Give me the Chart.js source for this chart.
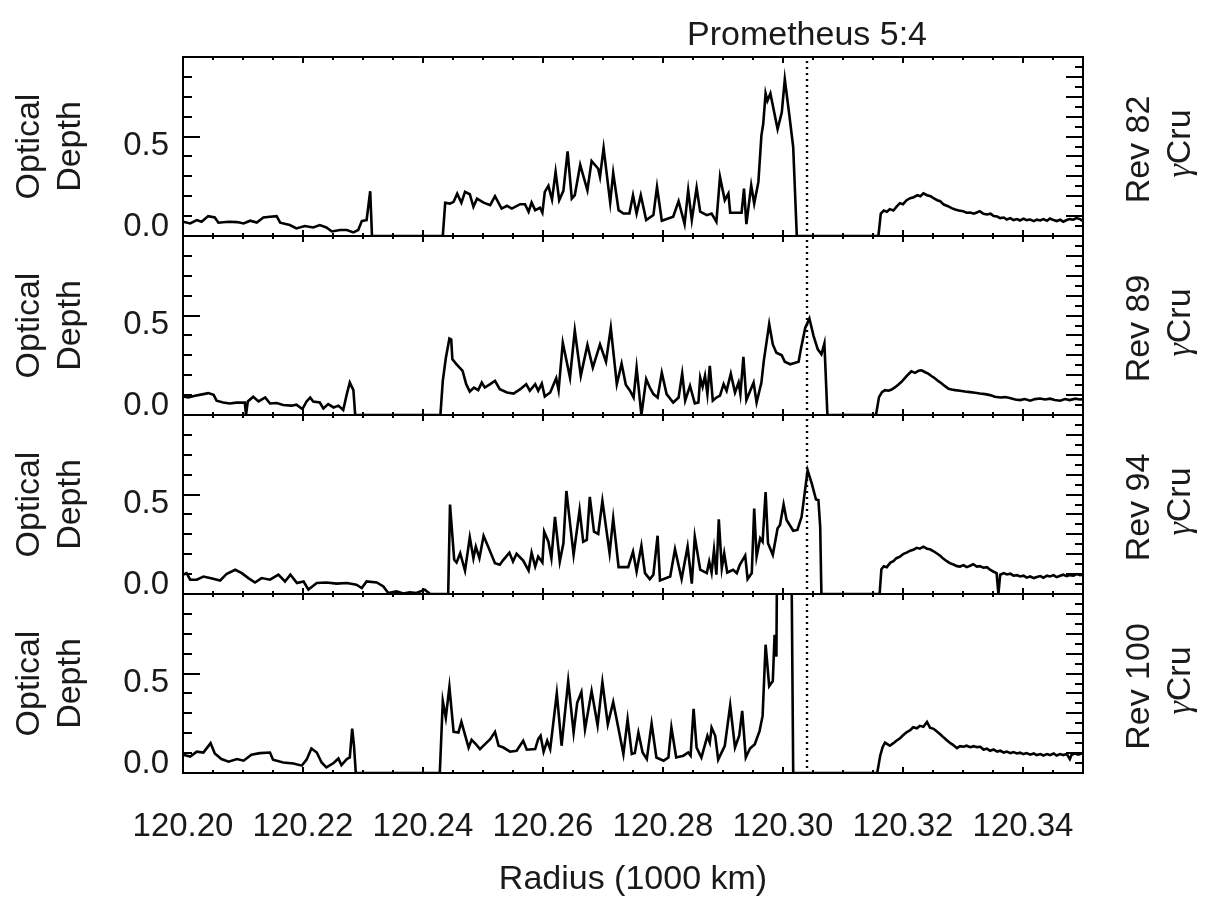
<!DOCTYPE html>
<html><head><meta charset="utf-8">
<script src="https://cdn.jsdelivr.net/npm/chart.js@4.4.1/dist/chart.umd.min.js"></script>
<style>
html,body{margin:0;padding:0;background:#fff;}
#wrap{position:relative;width:1217px;height:912px;background:#fff;}
canvas{position:absolute;left:0;top:0;}
</style>
</head><body>
<div id="wrap">
<canvas id="c0" width="1217" height="912"></canvas>
<canvas id="c1" width="1217" height="912"></canvas>
<canvas id="c2" width="1217" height="912"></canvas>
<canvas id="c3" width="1217" height="912"></canvas>
</div>
<script>
// ---------------- text ----------------
const revLabels = ['Rev 82', 'Rev 89', 'Rev 94', 'Rev 100'];
const starGreek = 'γ';
const starName = 'Cru';
const yTitleLines = ['Optical', 'Depth'];
const xTitle = 'Radius (1000 km)';
const resonanceLabel = 'Prometheus 5:4';
const resonanceRadius = 120.304;

// ---------------- axes ----------------
const xMin = 120.20, xMax = 120.35;
const xMajorTicks = [120.20, 120.22, 120.24, 120.26, 120.28, 120.30, 120.32, 120.34];
const yMin = 0.0, yMax = 0.9;
const yMajorTicks = [0.0, 0.5];
const yTickLabels = ['0.0', '0.5'];

// ---------------- data (radius in 1000 km, optical depth) ----------------
const rev82Radius = [120.2000,120.2012,120.2023,120.2031,120.2042,120.2053,120.2059,120.2076,120.2090,120.2101,120.2112,120.2123,120.2134,120.2145,120.2156,120.2162,120.2178,120.2189,120.2203,120.2217,120.2228,120.2239,120.2248,120.2262,120.2273,120.2284,120.2292,120.2298,120.2306,120.2312,120.2315,
120.2433,120.2437,120.2445,120.2451,120.2457,120.2464,120.2470,120.2478,120.2484,120.2490,120.2501,120.2512,120.2520,120.2531,120.2540,120.2548,120.2562,120.2570,120.2576,120.2581,120.2587,120.2595,120.2599,120.2603,120.2609,120.2615,120.2621,120.2627,120.2634,120.2641,120.2648,120.2653,120.2662,120.2674,120.2681,120.2692,120.2695,120.2701,120.2712,120.2717,120.2726,120.2734,120.2744,
120.2750,120.2756,120.2763,120.2772,120.2784,120.2790,120.2798,120.2817,120.2826,120.2836,120.2842,120.2848,120.2856,120.2862,120.2873,120.2881,120.2889,120.2895,120.2903,120.2909,120.2912,120.2931,120.2935,120.2939,120.2947,120.2952,120.2959,120.2964,120.2967,120.2971,120.2974,120.2979,120.2991,120.2998,120.3003,120.3010,120.3017,120.3023,
120.3159,120.3163,120.3168,120.3173,120.3178,120.3184,120.3190,120.3195,120.3200,120.3206,120.3212,120.3218,120.3224,120.3229,120.3234,120.3240,120.3246,120.3251,120.3257,120.3262,120.3268,120.3275,120.3281,120.3287,120.3293,120.3300,120.3306,120.3312,120.3318,120.3323,120.3328,120.3334,120.3340,120.3346,120.3351,120.3357,120.3362,120.3368,120.3373,120.3379,120.3384,120.3390,120.3395,120.3401,120.3406,120.3412,120.3418,120.3423,120.3429,120.3434,120.3440,120.3445,120.3451,120.3456,120.3462,120.3467,120.3473,120.3478,120.3484,120.3489,120.3495,120.3500];
const rev82Tau = [0.072,0.063,0.080,0.072,0.100,0.093,0.067,0.072,0.070,0.063,0.077,0.068,0.093,0.097,0.100,0.067,0.055,0.038,0.050,0.043,0.055,0.043,0.023,0.030,0.030,0.018,0.030,0.075,0.080,0.225,0.000,
0.000,0.167,0.163,0.172,0.213,0.167,0.222,0.210,0.147,0.188,0.168,0.155,0.200,0.138,0.152,0.138,0.160,0.160,0.122,0.168,0.130,0.142,0.117,0.222,0.252,0.183,0.322,0.180,0.227,0.425,0.188,0.205,0.358,0.230,0.377,0.338,0.297,0.442,0.168,0.317,0.130,0.113,0.113,
0.205,0.113,0.205,0.080,0.105,0.247,0.077,0.097,0.175,0.060,0.230,0.080,0.242,0.122,0.105,0.113,0.072,0.297,0.180,0.213,0.117,0.117,0.238,0.060,0.255,0.163,0.272,0.505,0.563,0.717,0.680,0.717,0.538,0.622,0.788,0.622,0.447,0.000,
0.000,0.113,0.128,0.122,0.135,0.128,0.150,0.165,0.160,0.180,0.190,0.195,0.205,0.200,0.215,0.205,0.200,0.190,0.180,0.175,0.158,0.150,0.140,0.133,0.128,0.125,0.117,0.118,0.112,0.118,0.125,0.112,0.108,0.112,0.100,0.098,0.090,0.093,0.083,0.090,0.080,0.085,0.078,0.087,0.080,0.083,0.075,0.082,0.078,0.085,0.077,0.088,0.080,0.075,0.082,0.072,0.080,0.085,0.082,0.090,0.085,0.075];

const rev89Radius = [120.2000,120.2009,120.2020,120.2034,120.2042,120.2051,120.2056,120.2067,120.2078,120.2089,120.2103,120.2105,120.2108,120.2117,120.2126,120.2137,120.2145,120.2156,120.2167,120.2181,120.2189,120.2199,120.2206,120.2212,120.2217,120.2228,120.2234,120.2242,120.2251,120.2259,120.2267,120.2273,120.2278,120.2284,120.2287,
120.2429,120.2433,120.2438,120.2444,120.2447,120.2449,120.2456,120.2466,120.2472,120.2478,120.2485,120.2492,120.2498,120.2503,120.2512,120.2520,120.2528,120.2540,120.2551,120.2562,120.2572,120.2578,120.2587,120.2592,120.2598,120.2603,120.2612,120.2622,120.2626,120.2633,120.2645,120.2653,120.2663,120.2674,120.2683,120.2695,120.2705,120.2713,120.2723,120.2731,120.2738,120.2745,
120.2751,120.2756,120.2764,120.2772,120.2778,120.2784,120.2791,120.2798,120.2806,120.2817,120.2826,120.2832,120.2837,120.2845,120.2853,120.2859,120.2862,120.2866,120.2870,120.2874,120.2878,120.2883,120.2889,120.2895,120.2901,120.2906,120.2913,120.2920,120.2926,120.2929,120.2934,120.2939,120.2951,120.2956,120.2964,120.2968,120.2977,120.2983,120.2989,120.2998,120.3003,120.3012,120.3026,120.3030,120.3037,120.3044,120.3051,120.3058,120.3064,120.3069,120.3074,
120.3155,120.3160,120.3165,120.3170,120.3176,120.3181,120.3187,120.3192,120.3198,120.3203,120.3209,120.3214,120.3220,120.3226,120.3231,120.3237,120.3242,120.3248,120.3253,120.3259,120.3264,120.3270,120.3276,120.3281,120.3287,120.3295,120.3303,120.3312,120.3320,120.3328,120.3337,120.3345,120.3353,120.3362,120.3370,120.3378,120.3387,120.3395,120.3403,120.3412,120.3420,120.3428,120.3437,120.3445,120.3453,120.3462,120.3470,120.3478,120.3487,120.3495,120.3500];
const rev89Tau = [0.093,0.088,0.097,0.105,0.110,0.102,0.072,0.063,0.058,0.062,0.062,0.000,0.068,0.092,0.068,0.088,0.058,0.060,0.050,0.047,0.052,0.030,0.068,0.088,0.068,0.063,0.033,0.055,0.038,0.047,0.025,0.105,0.163,0.125,0.000,
0.000,0.172,0.285,0.385,0.380,0.280,0.255,0.222,0.155,0.118,0.138,0.125,0.163,0.138,0.155,0.172,0.130,0.113,0.108,0.130,0.155,0.122,0.155,0.122,0.158,0.093,0.113,0.185,0.125,0.363,0.188,0.425,0.197,0.352,0.238,0.355,0.268,0.438,0.155,0.258,0.152,0.122,
0.088,0.238,0.000,0.180,0.138,0.105,0.088,0.213,0.105,0.063,0.088,0.208,0.072,0.147,0.058,0.063,0.188,0.142,0.197,0.105,0.247,0.072,0.088,0.097,0.155,0.122,0.208,0.113,0.163,0.105,0.292,0.075,0.163,0.063,0.163,0.272,0.458,0.355,0.313,0.300,0.268,0.255,0.268,0.335,0.438,0.485,0.397,0.330,0.305,0.360,0.000,
0.000,0.090,0.115,0.125,0.122,0.128,0.140,0.152,0.168,0.185,0.205,0.220,0.212,0.222,0.225,0.215,0.208,0.195,0.185,0.170,0.160,0.145,0.132,0.128,0.125,0.122,0.118,0.115,0.112,0.108,0.105,0.100,0.092,0.088,0.090,0.085,0.078,0.075,0.080,0.072,0.080,0.083,0.078,0.082,0.075,0.072,0.080,0.075,0.082,0.078,0.080];

const rev94Radius = [120.2000,120.2006,120.2012,120.2023,120.2034,120.2045,120.2062,120.2073,120.2087,120.2098,120.2109,120.2120,120.2131,120.2145,120.2159,120.2170,120.2179,120.2190,120.2201,120.2209,120.2223,120.2239,120.2256,120.2273,120.2289,120.2298,120.2306,120.2323,120.2334,120.2342,120.2356,120.2367,120.2378,120.2389,120.2403,120.2412,
120.2442,120.2445,120.2452,120.2456,120.2462,120.2470,120.2478,120.2484,120.2488,120.2494,120.2501,120.2509,120.2520,120.2528,120.2534,120.2544,120.2550,120.2556,120.2567,120.2576,120.2581,120.2587,120.2592,120.2599,120.2602,120.2609,120.2614,120.2620,120.2628,120.2634,120.2639,120.2651,120.2661,120.2667,120.2673,120.2678,120.2685,120.2692,120.2699,120.2711,120.2717,120.2726,120.2742,
120.2750,120.2756,120.2764,120.2770,120.2778,120.2784,120.2791,120.2795,120.2812,120.2820,120.2831,120.2841,120.2848,120.2853,120.2862,120.2873,120.2877,120.2881,120.2885,120.2889,120.2893,120.2898,120.2902,120.2907,120.2917,120.2923,120.2928,120.2937,120.2941,120.2948,120.2952,120.2956,120.2962,120.2966,120.2971,120.2975,120.2983,120.2991,120.2995,120.3001,120.3006,120.3017,120.3024,120.3031,120.3036,120.3041,120.3048,120.3055,120.3059,120.3062,120.3064,
120.3161,120.3164,120.3168,120.3173,120.3179,120.3184,120.3189,120.3195,120.3201,120.3206,120.3212,120.3217,120.3223,120.3228,120.3234,120.3240,120.3245,120.3251,120.3256,120.3262,120.3267,120.3273,120.3278,120.3284,120.3290,120.3295,120.3301,120.3306,120.3312,120.3317,120.3323,120.3328,120.3334,120.3340,120.3345,120.3351,120.3356,120.3359,120.3362,120.3368,120.3373,120.3379,120.3384,120.3390,120.3395,120.3401,120.3406,120.3412,120.3418,120.3423,120.3429,120.3434,120.3440,120.3445,120.3451,120.3456,120.3462,120.3467,120.3473,120.3478,120.3484,120.3490,120.3495,120.3500];
const rev94Tau = [0.097,0.105,0.072,0.072,0.088,0.080,0.068,0.102,0.122,0.105,0.080,0.058,0.080,0.072,0.097,0.063,0.097,0.055,0.063,0.022,0.055,0.058,0.052,0.055,0.047,0.030,0.063,0.058,0.038,0.005,0.013,0.002,0.008,0.005,0.022,0.000,
0.000,0.450,0.172,0.158,0.205,0.117,0.285,0.180,0.238,0.180,0.292,0.235,0.155,0.147,0.172,0.208,0.163,0.202,0.168,0.118,0.208,0.138,0.188,0.158,0.313,0.263,0.180,0.388,0.163,0.255,0.518,0.197,0.422,0.263,0.272,0.488,0.313,0.302,0.468,0.205,0.380,0.135,0.135,
0.213,0.113,0.242,0.105,0.075,0.097,0.293,0.068,0.088,0.225,0.075,0.238,0.052,0.288,0.122,0.105,0.163,0.108,0.222,0.097,0.375,0.130,0.205,0.108,0.122,0.105,0.147,0.193,0.075,0.105,0.430,0.188,0.280,0.263,0.513,0.255,0.197,0.330,0.347,0.450,0.372,0.318,0.322,0.388,0.505,0.622,0.555,0.475,0.472,0.338,0.000,
0.000,0.125,0.140,0.135,0.158,0.165,0.180,0.188,0.202,0.208,0.218,0.222,0.232,0.228,0.238,0.228,0.225,0.215,0.205,0.192,0.178,0.165,0.155,0.148,0.140,0.138,0.145,0.135,0.142,0.150,0.138,0.140,0.132,0.135,0.122,0.112,0.105,0.000,0.097,0.105,0.098,0.102,0.092,0.095,0.088,0.092,0.082,0.088,0.080,0.085,0.090,0.082,0.092,0.088,0.095,0.085,0.092,0.097,0.090,0.095,0.092,0.100,0.095,0.097];

const rev100Radius = [120.2000,120.2012,120.2023,120.2034,120.2046,120.2053,120.2064,120.2076,120.2090,120.2101,120.2114,120.2128,120.2145,120.2150,120.2167,120.2184,120.2198,120.2206,120.2214,120.2223,120.2231,120.2239,120.2251,120.2259,120.2264,120.2273,120.2278,120.2282,120.2285,120.2288,
120.2428,120.2433,120.2438,120.2444,120.2451,120.2459,120.2464,120.2476,120.2481,120.2488,120.2495,120.2506,120.2512,120.2520,120.2526,120.2534,120.2545,120.2556,120.2567,120.2573,120.2587,120.2592,120.2596,120.2601,120.2607,120.2612,120.2623,120.2631,120.2642,120.2651,120.2657,120.2664,120.2670,120.2681,120.2691,120.2699,120.2708,120.2717,120.2726,120.2734,
120.2741,120.2748,120.2753,120.2759,120.2766,120.2773,120.2781,120.2789,120.2801,120.2809,120.2814,120.2822,120.2834,120.2842,120.2846,120.2851,120.2856,120.2864,120.2874,120.2878,120.2881,120.2887,120.2892,120.2903,120.2912,120.2920,120.2927,120.2932,120.2938,120.2945,120.2953,120.2961,120.2966,120.2971,120.2977,120.2983,120.2986,120.2989,120.2991,120.3013,120.3017,
120.3157,120.3162,120.3166,120.3170,120.3174,120.3178,120.3184,120.3189,120.3195,120.3201,120.3206,120.3212,120.3217,120.3223,120.3228,120.3234,120.3240,120.3245,120.3251,120.3256,120.3262,120.3268,120.3273,120.3279,120.3284,120.3290,120.3295,120.3301,120.3306,120.3312,120.3318,120.3323,120.3329,120.3334,120.3340,120.3345,120.3351,120.3357,120.3362,120.3368,120.3373,120.3379,120.3384,120.3390,120.3395,120.3401,120.3406,120.3412,120.3418,120.3423,120.3429,120.3434,120.3440,120.3445,120.3451,120.3456,120.3462,120.3467,120.3473,120.3478,120.3481,120.3487,120.3492,120.3500];
const rev100Tau = [0.092,0.083,0.107,0.103,0.150,0.098,0.070,0.057,0.070,0.062,0.092,0.100,0.103,0.067,0.053,0.048,0.037,0.067,0.123,0.103,0.053,0.028,0.050,0.073,0.040,0.070,0.078,0.223,0.137,0.000,
0.000,0.362,0.278,0.433,0.207,0.203,0.257,0.128,0.167,0.145,0.120,0.153,0.170,0.207,0.137,0.128,0.107,0.112,0.162,0.117,0.120,0.170,0.187,0.107,0.162,0.120,0.400,0.137,0.462,0.203,0.353,0.407,0.220,0.412,0.240,0.457,0.245,0.357,0.220,0.095,
0.270,0.095,0.100,0.203,0.103,0.070,0.248,0.078,0.062,0.078,0.228,0.078,0.087,0.103,0.087,0.323,0.128,0.078,0.187,0.153,0.228,0.187,0.067,0.137,0.340,0.128,0.187,0.312,0.078,0.123,0.145,0.212,0.287,0.645,0.437,0.462,0.695,0.585,1.500,1.500,0.000,
0.000,0.087,0.130,0.153,0.145,0.137,0.150,0.162,0.175,0.192,0.205,0.215,0.230,0.225,0.237,0.232,0.257,0.228,0.222,0.210,0.195,0.178,0.165,0.150,0.140,0.125,0.135,0.132,0.137,0.130,0.135,0.130,0.132,0.118,0.122,0.112,0.118,0.108,0.112,0.103,0.108,0.100,0.105,0.098,0.102,0.095,0.100,0.092,0.098,0.090,0.095,0.088,0.095,0.090,0.098,0.088,0.095,0.090,0.095,0.070,0.092,0.098,0.092,0.100];

const panelRadius = [rev82Radius, rev89Radius, rev94Radius, rev100Radius];
const panelTau = [rev82Tau, rev89Tau, rev94Tau, rev100Tau];

// ---------------- layout / style ----------------
const W = 1217, H = 912;
const PLOT_LEFT = 183, PLOT_RIGHT = 1083;
const PANEL_TOPS = [57, 236, 415, 594];
const PANEL_H = 179;
const XL_H = 120;          // height reserved for the x tick-label axis
const FONT = '"Liberation Sans", Arial, Helvetica, sans-serif';
const FS = 33;
const TXT = '#1a1a1a';
const LINE_W = 2.6;

function tickValues(start, stop, step) {
  const out = [];
  for (let v = start; v <= stop + 1e-9; v += step) out.push(+v.toFixed(4));
  return out;
}
const xMinorTicks = tickValues(120.20, 120.35, 0.005);
const yLeftMinor = tickValues(0.1, 0.8, 0.1);
const yRightMajor = tickValues(0.1, 0.8, 0.1);
const yRightMinor = tickValues(0.05, 0.85, 0.1);

function tickAxis(axis, pos, min, max, values, len, weight) {
  return {
    type: 'linear', axis: axis, position: pos, min: min, max: max, weight: weight,
    afterBuildTicks: s => { s.ticks = values.map(v => ({ value: v })); },
    afterFit: s => { if (axis === 'x') s.height = 0; else s.width = 0; },
    grid: { display: true, drawOnChartArea: false, drawTicks: true, tickLength: -len,
            color: '#000', lineWidth: 2, tickWidth: 2 },
    border: { display: true, color: '#000', width: 2 },
    ticks: { display: false, autoSkip: false, maxRotation: 0 }
  };
}

function labelAxis(showLabels) {
  return {
    type: 'linear', axis: 'x', position: 'bottom', min: xMin, max: xMax, weight: 10,
    afterBuildTicks: s => { s.ticks = xMajorTicks.map(v => ({ value: v })); },
    afterFit: s => { s.height = XL_H; },
    grid: { display: false, drawOnChartArea: false, drawTicks: false },
    border: { display: false },
    ticks: { display: showLabels, autoSkip: false, maxRotation: 0, minRotation: 0,
             padding: 34, color: TXT, font: { family: FONT, size: FS },
             callback: v => Number(v).toFixed(2) }
  };
}

function vText(ctx, str, x, y) {
  ctx.save();
  ctx.translate(x, y);
  ctx.rotate(-Math.PI / 2);
  ctx.textAlign = 'center';
  ctx.textBaseline = 'middle';
  ctx.fillText(str, 0, 0);
  ctx.restore();
}

const panelText = {
  id: 'panelText',
  afterDraw(chart, args, opts) {
    const i = opts.index;
    const ctx = chart.ctx;
    const yS = chart.scales.y;
    const ca = chart.chartArea;
    const mid = (ca.top + ca.bottom) / 2;
    ctx.save();
    ctx.fillStyle = TXT;
    ctx.font = FS + 'px ' + FONT;
    ctx.textAlign = 'right';
    ctx.textBaseline = 'alphabetic';
    ctx.fillText(yTickLabels[1], 169, yS.getPixelForValue(yMajorTicks[1]) + 18);
    ctx.fillText(yTickLabels[0], 169, yS.getPixelForValue(yMajorTicks[0]));
    ctx.font = (FS + 1) + 'px ' + FONT;
    vText(ctx, yTitleLines[0], 30, mid);
    vText(ctx, yTitleLines[1], 71, mid);
    vText(ctx, revLabels[i], 1140, mid + 3);
    ctx.save();
    ctx.translate(1181, mid - 3);
    ctx.rotate(-Math.PI / 2);
    ctx.textBaseline = 'middle';
    ctx.textAlign = 'left';
    const gFont = 'italic ' + (FS + 1) + 'px "Liberation Serif", "DejaVu Serif", serif';
    const sFont = (FS + 1) + 'px ' + FONT;
    ctx.font = gFont;
    const wg = ctx.measureText(starGreek).width;
    ctx.font = sFont;
    const wc = ctx.measureText(starName).width;
    const x0 = -(wg + wc) / 2;
    ctx.font = gFont;
    ctx.fillText(starGreek, x0, 0);
    ctx.font = sFont;
    ctx.fillText(starName, x0 + wg, 0);
    ctx.restore();
    ctx.textAlign = 'center';
    ctx.textBaseline = 'middle';
    if (i === 0) {
      ctx.fillText(resonanceLabel, chart.scales.x.getPixelForValue(resonanceRadius), 36);
    }
    if (i === 3) {
      ctx.fillText(xTitle, (ca.left + ca.right) / 2, 880);
    }
    ctx.restore();
  }
};

function makeChart(i) {
  const top = PANEL_TOPS[i];
  const bottom = top + PANEL_H;
  const rad = panelRadius[i], tau = panelTau[i];
  new Chart(document.getElementById('c' + i), {
    type: 'line',
    data: {
      datasets: [
        { data: rad.map((r, k) => ({ x: r, y: tau[k] })), xAxisID: 'x', yAxisID: 'y',
          borderColor: '#000', borderWidth: LINE_W, pointRadius: 0, tension: 0, fill: false,
          borderJoinStyle: 'miter' },
        { data: [{ x: resonanceRadius, y: -1 }, { x: resonanceRadius, y: 2 }], xAxisID: 'x', yAxisID: 'y',
          borderColor: '#000', borderWidth: 2.4, borderDash: [2, 4], pointRadius: 0, fill: false }
      ]
    },
    options: {
      responsive: false, devicePixelRatio: 1, animation: false,
      layout: { padding: { left: PLOT_LEFT, right: W - PLOT_RIGHT, top: top, bottom: H - bottom - XL_H } },
      plugins: { legend: { display: false }, tooltip: { enabled: false }, panelText: { index: i } },
      scales: {
        x: tickAxis('x', 'bottom', xMin, xMax, xMajorTicks, 6, 1),
        xm: tickAxis('x', 'bottom', xMin, xMax, xMinorTicks, 3, 0),
        xl: labelAxis(i === 3),
        xt: tickAxis('x', 'top', xMin, xMax, xMajorTicks, 6, 1),
        xtm: tickAxis('x', 'top', xMin, xMax, xMinorTicks, 3, 0),
        y: tickAxis('y', 'left', yMin, yMax, yMajorTicks, 17, 1),
        ym: tickAxis('y', 'left', yMin, yMax, yLeftMinor, 9, 0),
        yr: tickAxis('y', 'right', yMin, yMax, yRightMajor, 17, 1),
        yrm: tickAxis('y', 'right', yMin, yMax, yRightMinor, 8, 0)
      }
    },
    plugins: [panelText]
  });
}
for (let i = 0; i < 4; i++) makeChart(i);
</script>
</body></html>
